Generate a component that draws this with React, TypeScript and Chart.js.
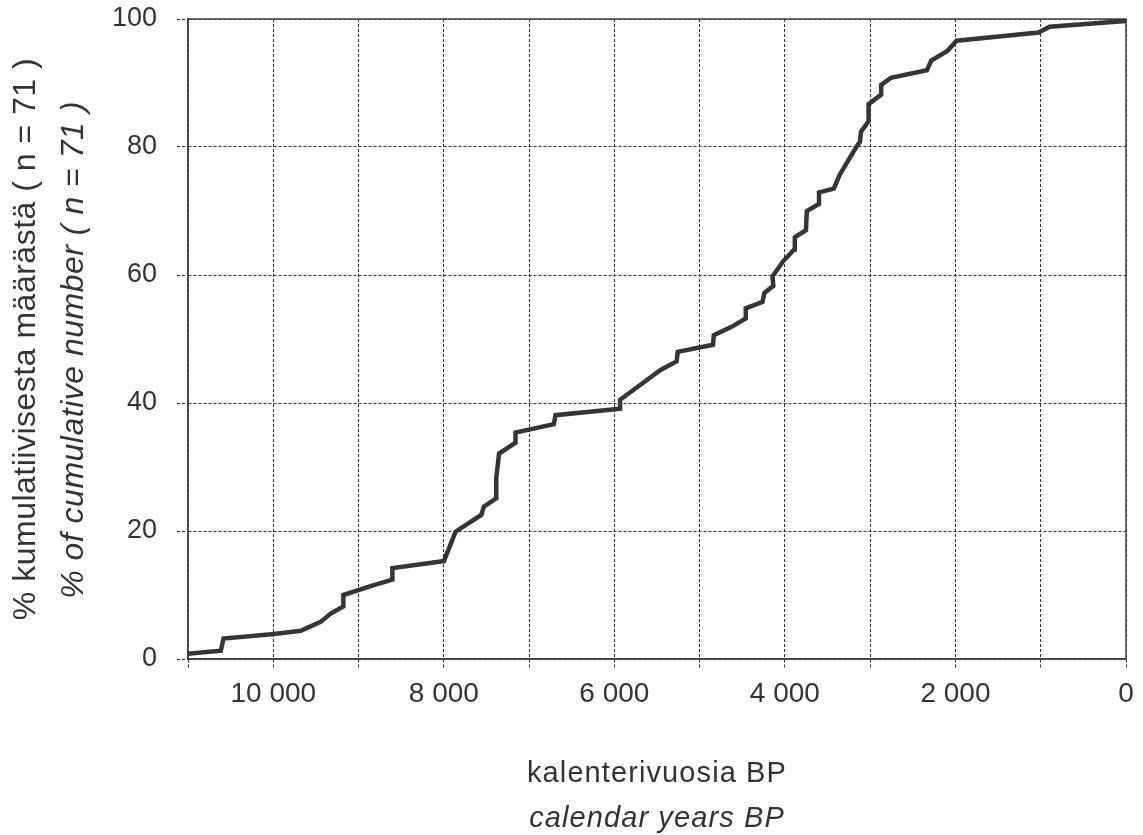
import React, { useEffect, useRef } from 'react';
import { Chart, registerables } from 'chart.js';

Chart.register(...registerables);

// ---- data (calendar years BP, cumulative %) ----
const years = [
  11000, 10615, 10584, 9990, 9678, 9444, 9327, 9178, 9178, 8858, 8603, 8603,
  7999, 7862, 7561, 7530, 7385, 7385, 7352, 7159, 7159, 6710, 6690, 5933, 5933,
  5454, 5270, 5257, 4844, 4834, 4625, 4459, 4459, 4262, 4241, 4136, 4145, 4023,
  3892, 3884, 3753, 3743, 3600, 3600, 3426, 3360, 3163, 3120, 3107, 3019, 3019,
  2871, 2871, 2758, 2335, 2283, 2095, 1986, 1026, 896, 0,
];
const cumulativePercent = [
  0.8, 1.3, 3.2, 3.9, 4.4, 5.8, 7.1, 8.2, 10.0, 11.4, 12.4, 14.2,
  15.3, 19.9, 22.5, 23.8, 25.1, 28.3, 32.1, 33.8, 35.4, 36.7, 38.1, 39.1, 40.5,
  45.2, 46.5, 48.0, 49.1, 50.6, 51.9, 53.2, 54.8, 55.8, 57.2, 58.3, 59.8, 62.1,
  64.0, 65.9, 67.0, 70.0, 71.1, 72.9, 73.5, 75.6, 80.0, 80.8, 82.4, 84.0, 86.7,
  88.2, 89.7, 90.8, 92.0, 93.5, 95.0, 96.6, 97.9, 98.8, 99.7,
];

const xTickValues = [10000, 8000, 6000, 4000, 2000, 0];
const xTickLabels = ['10 000', '8 000', '6 000', '4 000', '2 000', '0'];
const yTickValues = [0, 20, 40, 60, 80, 100];
const yTickLabels = ['0', '20', '40', '60', '80', '100'];

const xTitleLines = ['kalenterivuosia BP', 'calendar years BP'];
const yTitleLines = [
  '% kumulatiivisesta määrästä ( n = 71 )',
  '% of cumulative number ( n = 71 )',
];

const FONT = "'Liberation Sans', Arial, Helvetica, sans-serif";
const TEXT = '#333333';
const GRID = '#333333';
const AXIS = '#444444';

const framePlugin = {
  id: 'frame',
  beforeDatasetsDraw(chart: any) {
    const { ctx, chartArea: a } = chart;
    ctx.save();
    ctx.strokeStyle = AXIS;
    ctx.lineWidth = 1.5;
    ctx.setLineDash([]);
    ctx.strokeRect(a.left, a.top, a.right - a.left, a.bottom - a.top);
    ctx.restore();
  },
};

const titlesPlugin = {
  id: 'titles',
  afterDraw(chart: any) {
    const { ctx, chartArea: a } = chart;
    const cx = (a.left + a.right) / 2;
    ctx.save();
    ctx.fillStyle = TEXT;
    ctx.textAlign = 'center';
    ctx.textBaseline = 'alphabetic';
    (ctx as any).letterSpacing = '1.1px';
    ctx.font = `29px ${FONT}`;
    ctx.fillText(xTitleLines[0], cx, a.bottom + 123);
    ctx.font = `italic 29px ${FONT}`;
    ctx.fillText(xTitleLines[1], cx, a.bottom + 168);

    (ctx as any).letterSpacing = '0.5px';
    ctx.save();
    ctx.translate(a.left - 153, 339);
    ctx.rotate(-Math.PI / 2);
    ctx.font = `32px ${FONT}`;
    ctx.fillText(yTitleLines[0], 0, 0);
    ctx.restore();

    ctx.save();
    ctx.translate(a.left - 105, 350);
    ctx.rotate(-Math.PI / 2);
    ctx.font = `italic 32px ${FONT}`;
    ctx.fillText(yTitleLines[1], 0, 0);
    ctx.restore();
    ctx.restore();
  },
};

export default function App() {
  const ref = useRef<HTMLCanvasElement | null>(null);

  useEffect(() => {
    const canvas = ref.current;
    if (!canvas) return;
    const chart = new Chart(canvas, {
      type: 'line',
      data: {
        datasets: [
          {
            data: years.map((x, i) => ({ x, y: cumulativePercent[i] })),
            borderColor: '#353535',
            borderWidth: 4.5,
            pointRadius: 0,
            tension: 0,
            fill: false,
          },
        ],
      },
      options: {
        animation: false,
        responsive: false,
        devicePixelRatio: 1,
        layout: { padding: { top: 19, right: 17, left: 0, bottom: 0 } },
        plugins: { legend: { display: false }, tooltip: { enabled: false } },
        scales: {
          x: {
            type: 'linear',
            min: 0,
            max: 11000,
            reverse: true,
            ticks: {
              stepSize: 1000,
              autoSkip: false,
              maxRotation: 0,
              padding: 8,
              color: TEXT,
              font: { family: FONT, size: 28 },
              callback: (v: any) => {
                const i = xTickValues.indexOf(Number(v));
                return i >= 0 ? xTickLabels[i] : '';
              },
            },
            grid: {
              color: GRID,
              lineWidth: 1,
              tickLength: 10,
              tickBorderDash: [3, 2],
            },
            border: { display: true, color: AXIS, width: 1.5, dash: [3, 2] },
            afterFit: (s: any) => {
              s.height = 176;
              s.paddingLeft = 0;
              s.paddingRight = 0;
            },
          },
          y: {
            type: 'linear',
            min: 0,
            max: 100,
            ticks: {
              stepSize: 20,
              padding: 20,
              color: TEXT,
              font: { family: FONT, size: 27 },
              callback: (v: any) => {
                const i = yTickValues.indexOf(Number(v));
                return i >= 0 ? yTickLabels[i] : '';
              },
            },
            grid: {
              color: GRID,
              lineWidth: 1,
              tickLength: 11,
              tickBorderDash: [3, 2],
            },
            border: { display: true, color: AXIS, width: 1.5, dash: [3, 2] },
            afterFit: (s: any) => {
              s.width = 188;
              s.paddingTop = 0;
              s.paddingBottom = 0;
            },
          },
        },
      },
      plugins: [framePlugin, titlesPlugin],
    });
    return () => chart.destroy();
  }, []);

  return (
    <div style={{ position: 'absolute', left: 0, top: 0, width: 1143, height: 835, background: '#fff' }}>
      <canvas ref={ref} width={1143} height={835} style={{ display: 'block' }} />
    </div>
  );
}
